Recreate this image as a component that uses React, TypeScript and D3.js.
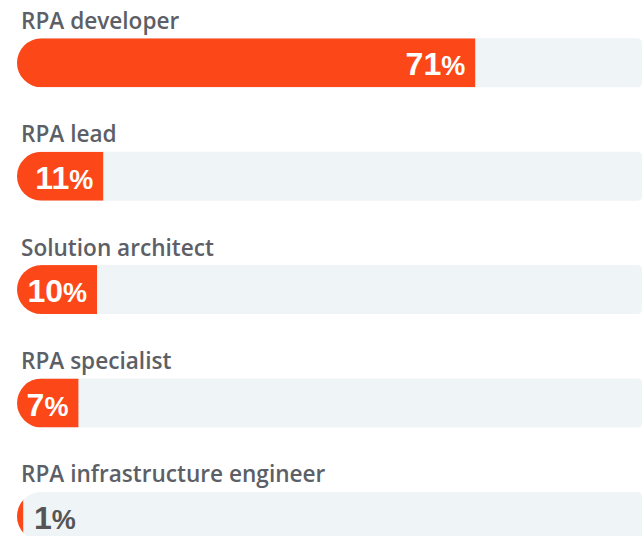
import React from "react";
import * as d3 from "d3";

const W = 643;
const H = 536;

const roles = [
  "RPA developer",
  "RPA lead",
  "Solution architect",
  "RPA specialist",
  "RPA infrastructure engineer",
];
const shares = [71, 11, 10, 7, 1];

const LEFT = 17;
const TRACK_RIGHT = 642;
const BAR_H = 49;
const CAP = 18; // room kept for the rounded end when the label sits inside
const INSIDE_MIN = 5; // below this the value is written after the bar

const ORANGE = "#fc4818";
const TRACK = "#eff4f7";
const LABEL = "#5c6066";

// rounded left end, slightly rounded right corners
const trackPath = (y: number) => {
  const r = BAR_H / 2;
  const r2 = 5;
  const x0 = LEFT;
  const x1 = TRACK_RIGHT;
  return `M${x0 + r},${y} H${x1 - r2} Q${x1},${y} ${x1},${y + r2} V${y + BAR_H - r2} Q${x1},${y + BAR_H} ${x1 - r2},${y + BAR_H} H${x0 + r} A${r},${r} 0 0 1 ${x0 + r},${y} Z`;
};

export default function App() {
  // each band = one row, bar sits at the top of its band
  const y = d3
    .scaleBand()
    .domain(roles)
    .range([38.3, 38.3 + roles.length * 113.4]);

  const x = d3.scaleLinear().domain([0, 100]).range([0, 620]);

  return (
    <svg
      width={W}
      height={H}
      style={{ position: "absolute", left: 0, top: 0, background: "#fff" }}
    >
      <defs>
        {roles.map((r, i) => (
          <clipPath id={`clip${i}`} key={r}>
            <path d={trackPath(y(r)!)} />
          </clipPath>
        ))}
      </defs>
      {roles.map((r, i) => {
        const top = y(r)!;
        const v = shares[i];
        const inside = v >= INSIDE_MIN;
        const w = inside ? CAP + x(v) : x(v);
        const end = LEFT + w;
        const base = top + BAR_H / 2 + 12.5;
        return (
          <g key={r}>
            <text
              x={21}
              y={top - 9.5}
              fill={LABEL}
              fontFamily="'Open Sans', sans-serif"
              fontWeight={600}
              fontSize={22.6}
            >
              {r}
            </text>
            <path d={trackPath(top)} fill={TRACK} />
            <rect
              x={LEFT}
              y={top}
              width={w}
              height={BAR_H}
              fill={ORANGE}
              clipPath={`url(#clip${i})`}
            />
            <text
              x={inside ? end - 10 : LEFT + 17}
              y={base}
              textAnchor={inside ? "end" : "start"}
              fill={inside ? "#ffffff" : "#555555"}
              fontFamily="'Liberation Sans', Arial, sans-serif"
              fontWeight={700}
              fontSize={32}
            >
              {v}
              <tspan fontSize={27}>%</tspan>
            </text>
          </g>
        );
      })}
    </svg>
  );
}
